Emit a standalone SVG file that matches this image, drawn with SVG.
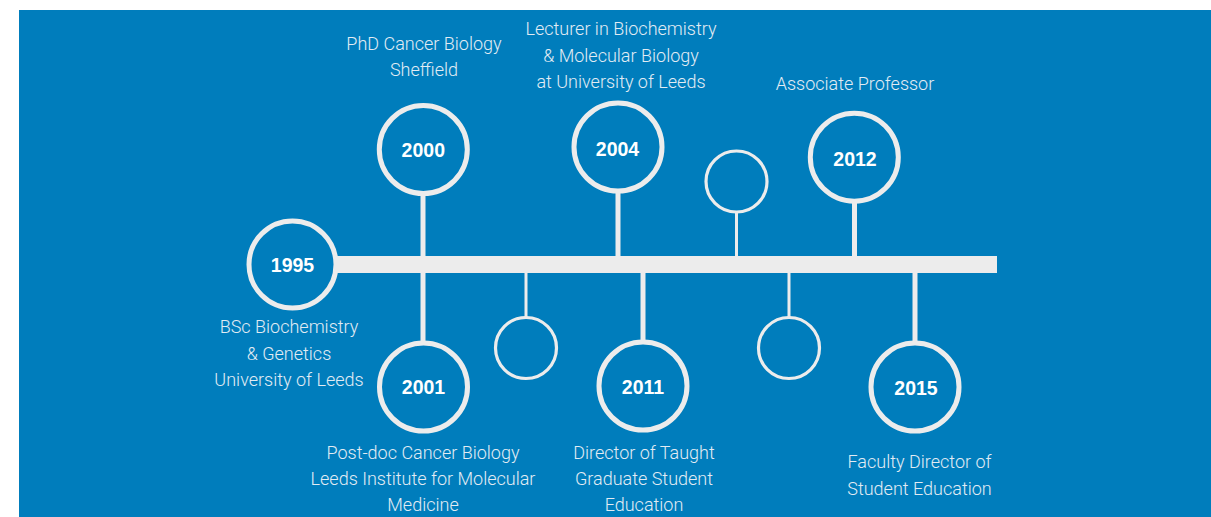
<svg xmlns="http://www.w3.org/2000/svg" width="1211" height="517" viewBox="0 0 1211 517">
<style>
.bg{fill:#007dbc}
.big{fill:none;stroke:#ececec;stroke-width:5}
.small{fill:none;stroke:#ececec;stroke-width:3.2}
.stem{stroke:#ececec;stroke-width:5}
.thin{stroke:#ececec;stroke-width:3}
.yr{font-family:"Liberation Sans",Arial,sans-serif;font-weight:bold;font-size:19.5px;fill:#ffffff;text-anchor:middle}
.lbl{font-family:Roboto,"Liberation Sans",Arial,sans-serif;font-weight:300;font-size:18px;fill:#e2ecf4;text-anchor:middle}
</style>
<rect x="0" y="0" width="1211" height="517" fill="#ffffff"/>
<rect class="bg" x="19" y="10" width="1192" height="507"/>
<g id="connectors">
<rect x="336" y="256" width="661" height="17" fill="#ececec"/>
<line class="stem" x1="423" y1="194" x2="423" y2="257"/>
<line class="stem" x1="618" y1="192" x2="618" y2="257"/>
<line class="thin" x1="736.5" y1="212" x2="736.5" y2="257"/>
<line class="stem" x1="854.5" y1="202" x2="854.5" y2="257"/>
<line class="stem" x1="423" y1="272" x2="423" y2="342"/>
<line class="thin" x1="526" y1="272" x2="526" y2="317"/>
<line class="stem" x1="643" y1="272" x2="643" y2="342"/>
<line class="thin" x1="789" y1="272" x2="789" y2="317"/>
<line class="stem" x1="915" y1="272" x2="915" y2="342"/>
</g>
<g id="n1995">
<circle class="big" cx="292.5" cy="264.5" r="43.5"/>
<text class="yr" x="292.5" y="271.5">1995</text>
<text class="lbl" x="289" y="333">BSc Biochemistry</text>
<text class="lbl" x="289" y="359.5">&amp; Genetics</text>
<text class="lbl" x="289" y="386">University of Leeds</text>
</g>
<g id="n2000">
<circle class="big" cx="423.3" cy="149.5" r="44"/>
<text class="yr" x="423.3" y="156.5">2000</text>
<text class="lbl" x="424" y="49.5">PhD Cancer Biology</text>
<text class="lbl" x="424" y="76">Sheffield</text>
</g>
<g id="n2001">
<circle class="big" cx="423.5" cy="387" r="44"/>
<text class="yr" x="423.5" y="394">2001</text>
<text class="lbl" x="423" y="458.5">Post-doc Cancer Biology</text>
<text class="lbl" x="423" y="485">Leeds Institute for Molecular</text>
<text class="lbl" x="423" y="511">Medicine</text>
</g>
<g id="n-small1">
<circle class="small" cx="526" cy="348" r="30.5"/>
</g>
<g id="n2004">
<circle class="big" cx="618" cy="147" r="44"/>
<text class="yr" x="617.5" y="155.5">2004</text>
<text class="lbl" x="621" y="35">Lecturer in Biochemistry</text>
<text class="lbl" x="621" y="61.5">&amp; Molecular Biology</text>
<text class="lbl" x="621" y="88">at University of Leeds</text>
</g>
<g id="n2011">
<circle class="big" cx="643" cy="386" r="44"/>
<text class="yr" x="643" y="394">2011</text>
<text class="lbl" x="644" y="458.5">Director of Taught</text>
<text class="lbl" x="644" y="485">Graduate Student</text>
<text class="lbl" x="644" y="511">Education</text>
</g>
<g id="n-small2">
<circle class="small" cx="736.5" cy="181.5" r="30.5"/>
</g>
<g id="n-small3">
<circle class="small" cx="789" cy="348" r="30.5"/>
</g>
<g id="n2012">
<circle class="big" cx="854.3" cy="157.2" r="44"/>
<text class="yr" x="855" y="166">2012</text>
<text class="lbl" x="855" y="89.5">Associate Professor</text>
</g>
<g id="n2015">
<circle class="big" cx="915" cy="387" r="44"/>
<text class="yr" x="916" y="394.5">2015</text>
<text class="lbl" x="919.5" y="467.5">Faculty Director of</text>
<text class="lbl" x="919.5" y="495">Student Education</text>
</g>
</svg>
